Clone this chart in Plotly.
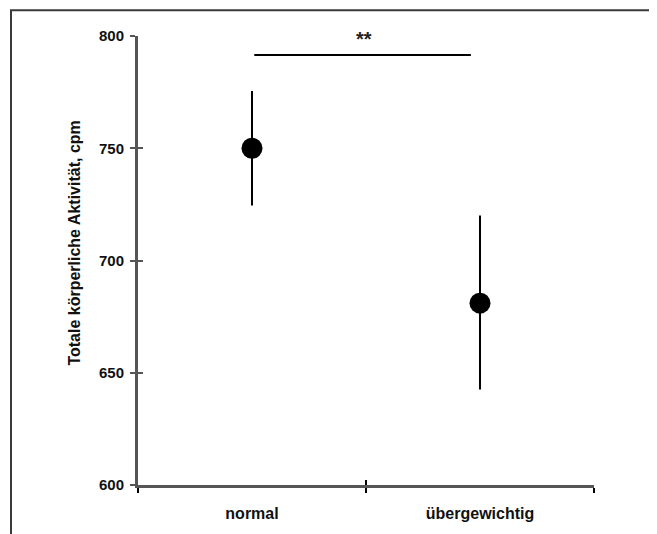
import plotly.graph_objects as go

categories = ["normal", "übergewichtig"]
cat_pos = [0.5, 1.5]
means = [750, 681]
err_plus = [25.5, 39]
err_minus = [25.5, 38.5]
y_ticks = [600, 650, 700, 750, 800]
sig_level = 791.5
sig_label = "**"
y_title = "Totale körperliche Aktivität, cpm"

# page body has an 8px margin; figure sized to fit inside the window
OFF = 8
W, H = 657 - OFF, 534 - OFF
L, R = 138 - OFF, 657 - 594
T, B = 36 - OFF, 534 - 488
pw, ph = W - L - R, H - T - B

fig = go.Figure()
fig.add_trace(go.Scatter(
    x=cat_pos, y=means, mode="markers",
    marker=dict(size=21, color="black"),
    error_y=dict(type="data", symmetric=False, array=err_plus, arrayminus=err_minus,
                 color="black", thickness=2, width=0),
    showlegend=False, hoverinfo="skip",
))
# significance bar
fig.add_trace(go.Scatter(
    x=[0.51, 1.46], y=[sig_level, sig_level], mode="lines",
    line=dict(color="black", width=2), showlegend=False, hoverinfo="skip",
))
fig.add_annotation(x=0.99, y=sig_level, text="<b>" + sig_label + "</b>", showarrow=False,
                   yshift=16, font=dict(size=20, color="#222"))

axis_color = "#555555"
font = dict(family="Liberation Sans, Arial, sans-serif", size=15, color="#111")

# y axis title as a rotated annotation
fig.add_annotation(xref="paper", yref="paper",
                   x=(75 - 138) / pw, y=(488 - 245) / ph,
                   text="<b>" + y_title + "</b>", textangle=-90, showarrow=False,
                   xanchor="center", yanchor="middle",
                   font=dict(size=16, color="#111"))

fig.update_layout(
    width=W, height=H,
    margin=dict(l=L, r=R, t=T, b=B),
    plot_bgcolor="white", paper_bgcolor="white",
    font=font,
    xaxis=dict(range=[0, 2], tickvals=[0, 1, 2], ticktext=["", "", ""],
               ticks="outside", ticklen=5, tickwidth=2, tickcolor="black",
               showline=True, linecolor=axis_color, linewidth=3,
               showgrid=False, zeroline=False),
    xaxis2=dict(range=[0, 2], overlaying="x", side="bottom", anchor="y",
                tickvals=[0, 1, 2], ticktext=["", "", ""],
                ticks="inside", ticklen=5, tickwidth=2, tickcolor="black",
                showgrid=False, zeroline=False, showline=False),
    xaxis3=dict(range=[0, 2], overlaying="x", side="bottom", anchor="y",
                tickvals=cat_pos, ticktext=["<b>" + c + "</b>" for c in categories],
                ticks="outside", ticklen=14, tickcolor="rgba(0,0,0,0)",
                showgrid=False, zeroline=False, showline=False,
                tickfont=dict(size=16, color="#111")),
    yaxis=dict(range=[600, 800], tickvals=y_ticks,
               ticktext=["<b>%d</b>" % v for v in y_ticks],
               ticks="outside", ticklen=5, tickwidth=2, tickcolor=axis_color,
               ticklabelstandoff=3,
               showline=True, linecolor=axis_color, linewidth=3,
               showgrid=False, zeroline=False),
    yaxis2=dict(range=[600, 800], overlaying="y", anchor="x", side="left",
                tickvals=y_ticks, ticktext=[""] * len(y_ticks),
                ticks="inside", ticklen=5, tickwidth=2, tickcolor=axis_color,
                showgrid=False, zeroline=False, showline=False),
)
# dummy traces to activate overlay axes
fig.add_trace(go.Scatter(x=[None], y=[None], xaxis="x2", yaxis="y2", showlegend=False))
fig.add_trace(go.Scatter(x=[None], y=[None], xaxis="x3", yaxis="y", showlegend=False))

# outer frame
fig.add_shape(type="rect", xref="paper", yref="paper",
              x0=(11 - 138) / pw, x1=(653 - 138) / pw,
              y0=-0.3, y1=(488 - 10) / ph,
              line=dict(color="#3a3a3a", width=2), layer="below")

fig.write_html("out.html")
